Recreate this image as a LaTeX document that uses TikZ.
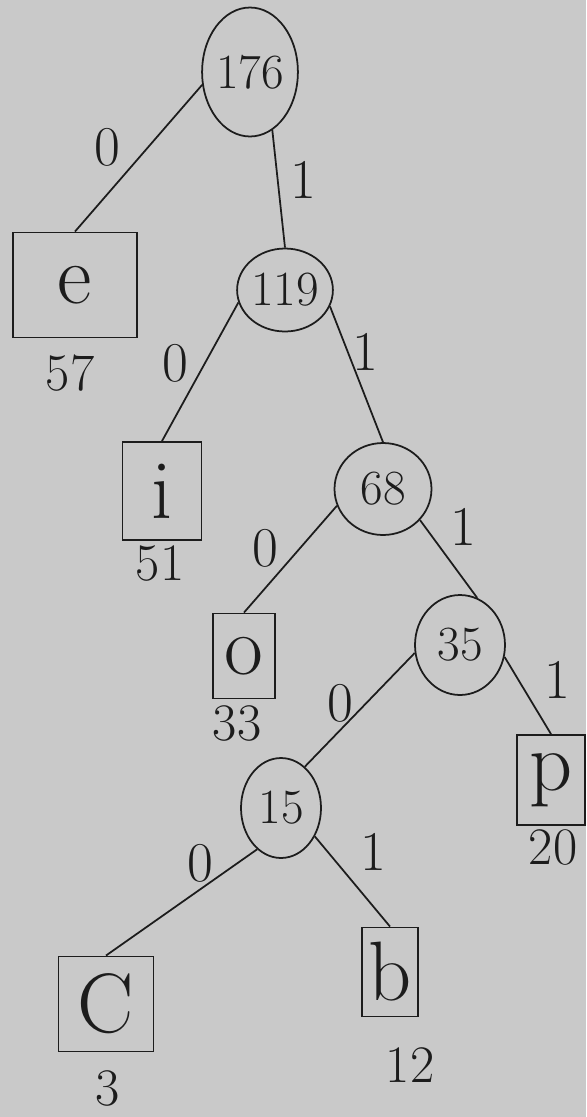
\documentclass[tikz,border=0pt]{standalone}
\usepackage{tikz}
\usetikzlibrary{positioning,shapes.geometric}
\definecolor{paper}{HTML}{C9C9C9}
\definecolor{ink}{HTML}{1C1C1C}

\begin{document}
\begin{tikzpicture}[x=0.02cm, y=-0.02cm,
  sumnode/.style ={ellipse, draw=ink, line width=1pt, inner sep=0pt, text=ink, font=\fontsize{28}{28}\selectfont},
  leafbox/.style ={rectangle, draw=ink, line width=1.1pt, inner sep=0pt, text=ink, font=\fontsize{48}{48}\selectfont},
  freqlbl/.style ={text=ink, font=\fontsize{30}{30}\selectfont, inner sep=0pt},
  bitlbl/.style  ={text=ink, font=\fontsize{32}{32}\selectfont, inner sep=0pt},
  branch/.style  ={draw=ink, line width=1pt},
]
% paper (pixel grid, y pointing down)
\fill[paper] (0,0) rectangle (586,1117);
\useasboundingbox (0,0) rectangle (586,1117);
% inner nodes (sums)
\node[sumnode, minimum width=1.88cm, minimum height=2.58cm] (n176) at (250,72)  {176};
\node[sumnode, minimum width=1.6cm,  minimum height=1.66cm] (n119) at (285,290) {119};
\node[sumnode, minimum width=1.94cm, minimum height=1.84cm] (n68)  at (383,489) {68};
\node[sumnode, minimum width=1.8cm,  minimum height=2.0cm]  (n35)  at (460,645) {35};
\node[sumnode, minimum width=1.6cm,  minimum height=2.0cm]  (n15)  at (281,808) {15};
% leaves
\node[leafbox, minimum width=2.48cm, minimum height=2.1cm]  (le) at (75,285)   {e};
\node[leafbox, minimum width=1.58cm, minimum height=1.96cm] (li) at (162,491)  {i};
\node[leafbox, minimum width=1.24cm, minimum height=1.7cm]  (lo) at (244,656)  {o};
\node[leafbox, minimum width=1.36cm, minimum height=1.8cm]  (lp) at (551,780)  {p};
\node[leafbox, minimum width=1.9cm,  minimum height=1.9cm]  (lc) at (106,1004) {C};
\node[leafbox, minimum width=1.12cm, minimum height=1.78cm] (lb) at (390,972)  {b};
% counts under the leaves
\node[freqlbl] (fe) at (70,373)   {57};
\node[freqlbl] (fi) at (160,563)  {51};
\node[freqlbl] (fo) at (237,723)  {33};
\node[freqlbl] (fp) at (553,847)  {20};
\node[freqlbl] (fc) at (108,1088) {3};
\node[freqlbl] (fb) at (410,1065) {12};
% branches, 0 left / 1 right
\draw[branch] (n176.195) -- (le.north)   node[bitlbl] at (107,147) {0};
\draw[branch] (n176.-69) -- (n119.north) node[bitlbl] at (303,180) {1};
\draw[branch] (n119.195) -- (li.north)   node[bitlbl] at (175,363) {0};
\draw[branch] (n119.-20) -- (n68.north)  node[bitlbl] at (365,352) {1};
\draw[branch] (n68.200)  -- (lo.north)   node[bitlbl] at (265,548) {0};
\draw[branch] (n68.-40)  -- (n35.70)     node[bitlbl] at (463,527) {1};
\draw[branch] (n35.190)  -- (n15.60)     node[bitlbl] at (340,703) {0};
\draw[branch] (n35.-15)  -- (lp.north)   node[bitlbl] at (557,680) {1};
\draw[branch] (n15.-120) -- (lc.north)   node[bitlbl] at (200,863) {0};
\draw[branch] (n15.-40)  -- (lb.north)   node[bitlbl] at (373,852) {1};
\end{tikzpicture}
\end{document}
